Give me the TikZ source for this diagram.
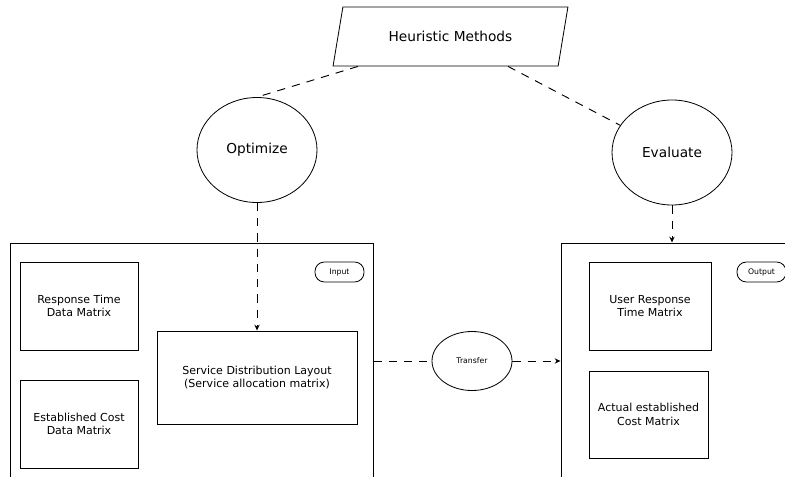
\documentclass[tikz,border=0pt]{standalone}
\usepackage{fontspec}
\setmainfont{DejaVu Sans}
\usetikzlibrary{arrows.meta,positioning,shapes.geometric,calc}

\begin{document}
\begin{tikzpicture}[x=0.03cm,y=-0.03cm,
    group/.style={draw,line width=0.8pt,inner sep=0pt},
    box/.style={draw,line width=0.8pt,inner sep=0pt,align=center,
      font=\fontsize{9.4}{11.5}\selectfont},
    oval/.style={draw,line width=0.7pt,ellipse,inner sep=0pt,
      minimum width=3.6cm,minimum height=3.15cm,font=\fontsize{11.7}{14}\selectfont},
    pill/.style={draw,line width=0.7pt,rounded corners=8pt,inner sep=0pt,
      minimum width=1.47cm,minimum height=0.6cm,font=\fontsize{6.6}{8}\selectfont},
    dashln/.style={line width=0.8pt,dash pattern=on 7pt off 6pt},
    darr/.style={dashln,-{Stealth[length=5pt,width=4.5pt]}}
  ]
    \clip (0,0) rectangle (785,476);
    \useasboundingbox (0,0) rectangle (785,476);

    \node[draw,line width=0.7pt,trapezium,trapezium left angle=72,trapezium right angle=108,
      trapezium stretches=true,minimum width=7.05cm,minimum height=1.77cm,
      font=\fontsize{11.7}{14}\selectfont] (heur) at (450.5,36.5) {Heuristic Methods};
    \node[oval] (opt) at (257,150) {Optimize};
    \node[oval] (eval) at (672,152.5) {Evaluate};

    \node[group,minimum width=10.89cm,minimum height=7.41cm] (ingrp) at (191.5,366.5) {};
    \node[box,minimum width=3.54cm,minimum height=2.64cm] (rt) at (79,306) {Response Time\\Data Matrix};
    \node[box,minimum width=3.54cm,minimum height=2.64cm] (ec) at (79,424) {Established Cost\\Data Matrix};
    \node[box,minimum width=6.0cm,minimum height=2.79cm] (serv) at (257,377.5)
      {Service Distribution Layout\\(Service allocation matrix)};
    \node[pill] (inp) at (339.5,272) {Input};

    \node[group,minimum width=7.47cm,minimum height=7.41cm] (outgrp) at (685.5,366.5) {};
    \node[box,minimum width=3.66cm,minimum height=2.64cm] (urt) at (650,306) {User Response\\Time Matrix};
    \node[box,minimum width=3.57cm,minimum height=2.61cm] (aec) at (648.5,414.5) {Actual established\\Cost Matrix};
    \node[pill] (outp) at (761.5,272) {Output};

    \node[oval,minimum width=2.4cm,minimum height=1.77cm,
      font=\fontsize{6.6}{8}\selectfont] (trans) at (472,361) {Transfer};

    \draw[dashln] ($(heur.south)+(-92.5,0)$) -- (opt.north);
    \draw[dashln] ($(heur.south)+(57.5,0)$) -- (eval);
    \draw[darr] (opt) -- (serv);
    \draw[darr] (eval.south) -- (eval.south |- outgrp.north);
    \draw[dashln] (trans -| ingrp.east) -- (trans);
    \draw[darr] (trans) -- (trans -| outgrp.west);
  \end{tikzpicture}
\end{document}
